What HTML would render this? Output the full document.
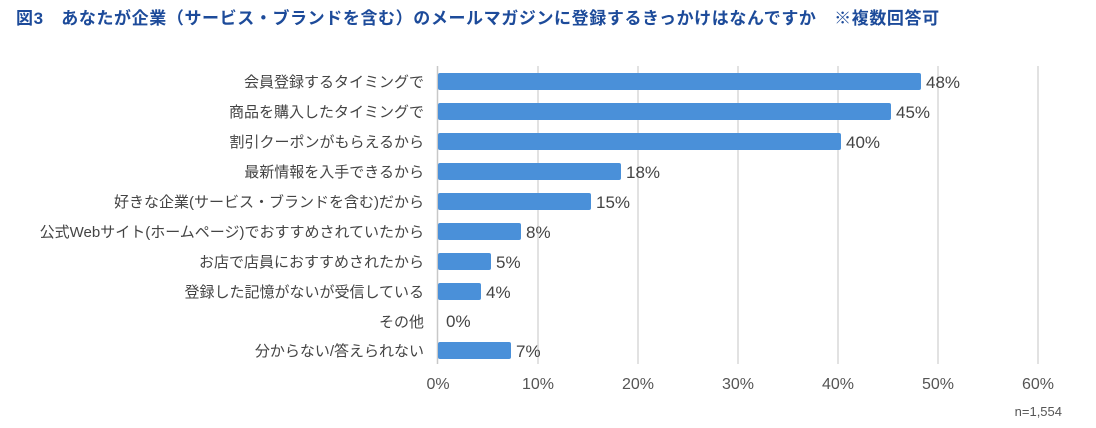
<!DOCTYPE html>
<html><head><meta charset="utf-8"><style>
body{margin:0;background:#fff;}
svg{display:block;font-family:"Liberation Sans","Noto Sans CJK JP",sans-serif;}
</style></head><body>
<svg width="1096" height="428" viewBox="0 0 1096 428" xmlns="http://www.w3.org/2000/svg">
<text x="16" y="24" font-size="17" font-weight="bold" fill="#1d4b9a" letter-spacing="0.6">図3　あなたが企業（サービス・ブランドを含む）のメールマガジンに登録するきっかけはなんですか　※複数回答可</text>
<g stroke="#d9d9d9" stroke-width="1.5">
<line x1="538" y1="66" x2="538" y2="364"/><line x1="638" y1="66" x2="638" y2="364"/><line x1="738" y1="66" x2="738" y2="364"/><line x1="838" y1="66" x2="838" y2="364"/><line x1="938" y1="66" x2="938" y2="364"/><line x1="1038" y1="66" x2="1038" y2="364"/>
</g>
<line x1="437.5" y1="66" x2="437.5" y2="364" stroke="#c8c8c8" stroke-width="1.5"/>
<g fill="#4a90d9">
<rect x="438" y="73" width="483" height="17" rx="2"/>
<rect x="438" y="103" width="453" height="17" rx="2"/>
<rect x="438" y="133" width="403" height="17" rx="2"/>
<rect x="438" y="163" width="183" height="17" rx="2"/>
<rect x="438" y="193" width="153" height="17" rx="2"/>
<rect x="438" y="223" width="83" height="17" rx="2"/>
<rect x="438" y="253" width="53" height="17" rx="2"/>
<rect x="438" y="283" width="43" height="17" rx="2"/>
<rect x="438" y="342" width="73" height="17" rx="2"/>
</g>
<g font-size="15" fill="#444" text-anchor="end">
<text x="424" y="87">会員登録するタイミングで</text>
<text x="424" y="117">商品を購入したタイミングで</text>
<text x="424" y="147">割引クーポンがもらえるから</text>
<text x="424" y="177">最新情報を入手できるから</text>
<text x="424" y="207">好きな企業(サービス・ブランドを含む)だから</text>
<text x="424" y="237">公式Webサイト(ホームページ)でおすすめされていたから</text>
<text x="424" y="267">お店で店員におすすめされたから</text>
<text x="424" y="297">登録した記憶がないが受信している</text>
<text x="424" y="327">その他</text>
<text x="424" y="356">分からない/答えられない</text>
</g>
<g font-size="17" fill="#444">
<text x="926" y="88">48%</text>
<text x="896" y="118">45%</text>
<text x="846" y="148">40%</text>
<text x="626" y="178">18%</text>
<text x="596" y="208">15%</text>
<text x="526" y="238">8%</text>
<text x="496" y="268">5%</text>
<text x="486" y="298">4%</text>
<text x="446" y="327">0%</text>
<text x="516" y="357">7%</text>
</g>
<g font-size="16" fill="#555" text-anchor="middle">
<text x="438" y="389">0%</text><text x="538" y="389">10%</text><text x="638" y="389">20%</text><text x="738" y="389">30%</text><text x="838" y="389">40%</text><text x="938" y="389">50%</text><text x="1038" y="389">60%</text>
</g>
<text x="1062" y="416" font-size="13" fill="#555" text-anchor="end">n=1,554</text>
</svg>
</body></html>
